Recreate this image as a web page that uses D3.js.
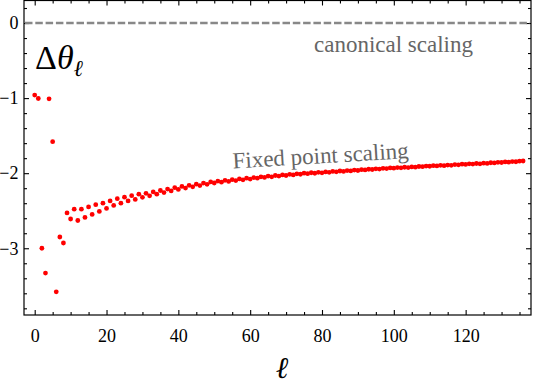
<!DOCTYPE html>
<html>
<head>
<meta charset="utf-8">
<script src="https://cdn.jsdelivr.net/npm/d3@7"></script>
</head>
<body style="margin:0;background:#fff">
<svg id="chart" width="536" height="386" style="display:block"></svg>
<script>
// ---- data ----
const ells = d3.range(0, 137);
const deltaTheta = [
  -0.96, -1.005, -3.00, -3.33, -1.01, -1.58, -3.58, -2.85, -2.93,
  -2.53, -2.61, -2.48, -2.63, -2.48, -2.59, -2.45, -2.55, -2.42, -2.51,
  -2.40, -2.47, -2.37, -2.43, -2.34, -2.40, -2.32, -2.37, -2.30, -2.35, -2.28,
  -2.322, -2.269, -2.301, -2.250, -2.280, -2.231, -2.259, -2.212, -2.237, -2.193,
  -2.216, -2.177, -2.199, -2.162, -2.182, -2.147, -2.165, -2.132, -2.148, -2.117,
  -2.131, -2.105, -2.120, -2.095, -2.110, -2.086, -2.099, -2.077, -2.088, -2.067,
  -2.078, -2.058, -2.067, -2.048, -2.057, -2.038, -2.048, -2.031, -2.039, -2.023,
  -2.031, -2.015, -2.023, -2.008, -2.014, -2.000, -2.007, -1.994, -2.001, -1.988,
  -1.995, -1.983, -1.988, -1.977, -1.982, -1.971, -1.976, -1.965, -1.970, -1.959,
  -1.964, -1.954, -1.957, -1.948, -1.951, -1.942, -1.945, -1.936, -1.939, -1.930,
  -1.933, -1.925, -1.929, -1.921, -1.925, -1.917, -1.920, -1.911, -1.914, -1.905,
  -1.908, -1.900, -1.904, -1.896, -1.900, -1.892, -1.895, -1.886, -1.889, -1.880,
  -1.883, -1.875, -1.879, -1.871, -1.875, -1.867, -1.870, -1.861, -1.864, -1.855,
  -1.858, -1.850, -1.853, -1.845, -1.848, -1.840, -1.838
];
const canonical = 0;
const xMajorTicks = [0, 20, 40, 60, 80, 100, 120];
const xMinorTicks = d3.range(5, 136, 5).filter(v => v % 20 !== 0);
const yMajorTicks = [0, -1, -2, -3];
const yMinorTicks = [0.2, -0.2, -0.4, -0.6, -0.8, -1.2, -1.4, -1.6, -1.8, -2.2, -2.4, -2.6, -2.8, -3.2, -3.4, -3.6, -3.8];
const yLabel = "Δθ";
const ySubLabel = "ℓ";
const xLabel = "ℓ";
const canonicalLabel = "canonical scaling";
const fixedLabel = "Fixed point scaling";

// ---- layout ----
const SERIF = '"Liberation Serif"';
const svg = d3.select("#chart");
const L = 24, R = 531, T = 0.5, B = 315;
const x = d3.scaleLinear().domain([-2.98, 138.2]).range([L, R]);
const y = d3.scaleLinear().domain([0.3, -3.889]).range([T, B]);

const fmt = d => (d < 0 ? "\u2212" + Math.abs(d) : String(d));

// frame
svg.append("rect").attr("x", L).attr("y", T).attr("width", R - L).attr("height", B - T)
  .attr("fill", "none").attr("stroke", "#000").attr("stroke-width", 1.2);

function styleAxis(g) {
  g.attr("font-family", SERIF).attr("font-size", 18);
  g.select(".domain").remove();
  g.selectAll(".tick line").attr("stroke", "#000").attr("stroke-width", 1.1);
  g.selectAll(".tick text").attr("fill", "#000").attr("font-family", SERIF).attr("font-size", 18);
}

// bottom axis
svg.append("g").attr("transform", `translate(0,${B})`)
  .call(d3.axisBottom(x).tickValues(xMajorTicks).tickSize(-5).tickPadding(14).tickFormat(fmt))
  .call(styleAxis);
svg.append("g").attr("transform", `translate(0,${B})`)
  .call(d3.axisBottom(x).tickValues(xMinorTicks).tickSize(-3).tickFormat(""))
  .call(styleAxis);
// top axis
svg.append("g").attr("transform", `translate(0,${T})`)
  .call(d3.axisTop(x).tickValues(xMajorTicks).tickSize(-5).tickFormat(""))
  .call(styleAxis);
svg.append("g").attr("transform", `translate(0,${T})`)
  .call(d3.axisTop(x).tickValues(xMinorTicks).tickSize(-3).tickFormat(""))
  .call(styleAxis);
// left axis
svg.append("g").attr("transform", `translate(${L},0)`)
  .call(d3.axisLeft(y).tickValues(yMajorTicks).tickSize(-5).tickPadding(5.5).tickFormat(fmt))
  .call(styleAxis);
svg.append("g").attr("transform", `translate(${L},0)`)
  .call(d3.axisLeft(y).tickValues(yMinorTicks).tickSize(-3).tickFormat(""))
  .call(styleAxis);
// right axis
svg.append("g").attr("transform", `translate(${R},0)`)
  .call(d3.axisRight(y).tickValues(yMajorTicks).tickSize(-5).tickFormat(""))
  .call(styleAxis);
svg.append("g").attr("transform", `translate(${R},0)`)
  .call(d3.axisRight(y).tickValues(yMinorTicks).tickSize(-3).tickFormat(""))
  .call(styleAxis);

// canonical dashed line
svg.append("line")
  .attr("x1", L + 1).attr("x2", R - 1)
  .attr("y1", y(canonical)).attr("y2", y(canonical))
  .attr("stroke", "#888").attr("stroke-width", 2.6)
  .attr("stroke-dasharray", "7.5,2.8");

// points
svg.append("g").selectAll("circle")
  .data(ells.map((l, i) => ({ l, v: deltaTheta[i] })))
  .join("circle")
  .attr("cx", d => x(d.l)).attr("cy", d => y(d.v))
  .attr("r", 2.4).attr("fill", "#ff0000");

// annotations
svg.append("text").attr("x", 393.5).attr("y", 51.5).attr("text-anchor", "middle")
  .attr("font-family", SERIF).attr("font-size", 23).attr("fill", "#666").text(canonicalLabel);

svg.append("text")
  .attr("transform", "translate(233,168.5) rotate(-3.4)")
  .attr("font-family", SERIF).attr("font-size", 23).attr("fill", "#666").text(fixedLabel);

// y label
const yl = svg.append("text").attr("x", 35).attr("y", 69)
  .attr("font-family", SERIF).attr("font-size", 34).attr("fill", "#000");
yl.append("tspan").text(yLabel.charAt(0));
yl.append("tspan").attr("font-style", "italic").text(yLabel.charAt(1));
yl.append("tspan").attr("font-style", "italic").attr("font-size", 23).attr("dy", 7).text(ySubLabel);

// x label
svg.append("text").attr("x", 282).attr("y", 378).attr("text-anchor", "middle")
  .attr("font-family", SERIF).attr("font-size", 30).attr("font-style", "italic")
  .attr("fill", "#000").text(xLabel);
</script>
</body>
</html>
